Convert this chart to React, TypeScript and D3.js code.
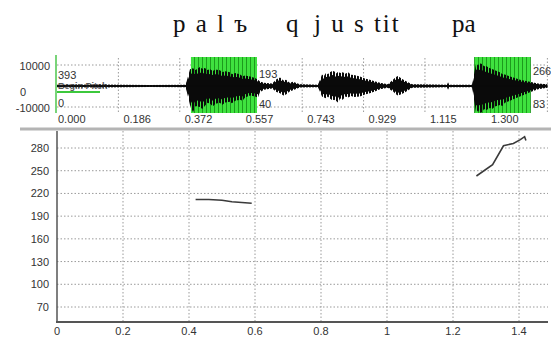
import * as d3 from 'd3';

// ---- data ----
const titleParts = ['p a l ъ', 'q', 'j u s tit', 'pa'];

// top panel (waveform) time labels
const waveTicks = [0.0, 0.186, 0.372, 0.557, 0.743, 0.929, 1.115, 1.3];
const waveTickLabels = ['0.000', '0.186', '0.372', '0.557', '0.743', '0.929', '1.115', '1.300'];
const ampTickLabels = ['10000', '0', '-10000'];

// waveform envelope: time (s), upper and lower amplitude
const envTime = [0, 0.13, 0.28, 0.39, 0.403, 0.412, 0.42, 0.433, 0.44, 0.448, 0.456, 0.464, 0.472, 0.48, 0.494, 0.5, 0.51, 0.524, 0.53, 0.54, 0.555, 0.562, 0.57, 0.585, 0.6, 0.609, 0.615, 0.627, 0.652, 0.665, 0.676, 0.686, 0.694, 0.705, 0.715, 0.736, 0.791, 0.803, 0.809, 0.815, 0.821, 0.827, 0.834, 0.84, 0.846, 0.852, 0.858, 0.866, 0.874, 0.882, 0.891, 0.9, 0.918, 0.933, 0.948, 0.965, 0.979, 1.003, 1.012, 1.018, 1.026, 1.033, 1.045, 1.055, 1.076, 1.182, 1.185, 1.188, 1.258, 1.27, 1.276, 1.28, 1.288, 1.294, 1.3, 1.312, 1.32, 1.327, 1.342, 1.35, 1.357, 1.373, 1.388, 1.403, 1.418, 1.433, 1.458, 1.486];
const envUpper = [600, 700, 500, 600, 8000, 8500, 7600, 9000, 8200, 8600, 7600, 8000, 7200, 7800, 7500, 6600, 7000, 6500, 5600, 6200, 5500, 4600, 5000, 4500, 3800, 3000, 2200, 1500, 1200, 3200, 4000, 2600, 3000, 1600, 2000, 800, 600, 5500, 4800, 6200, 5600, 6500, 7200, 7000, 6000, 6800, 6200, 6600, 5800, 6500, 5400, 5200, 4500, 3600, 3000, 2200, 1500, 800, 2200, 3000, 4200, 4800, 3500, 2500, 800, 600, 1800, 600, 600, 11000, 9800, 10800, 10500, 9400, 9500, 8500, 8000, 7500, 6500, 5600, 5500, 4500, 3800, 3000, 2500, 2000, 1200, 800];
const envLower = [-600, -700, -500, -600, -9000, -12500, -9500, -10000, -11000, -9500, -8000, -8500, -9800, -8500, -8000, -9000, -7800, -7500, -8200, -7000, -6500, -7000, -5500, -4500, -5000, -5500, -3000, -1800, -1200, -2800, -3500, -4500, -4000, -2600, -2000, -700, -600, -5000, -5500, -5800, -5000, -6000, -6800, -6500, -7200, -8000, -6000, -6500, -5000, -5500, -4800, -5200, -5000, -4000, -3500, -2500, -1500, -800, -2000, -2500, -3800, -4500, -3800, -3000, -800, -600, -1800, -600, -600, -13000, -11500, -12800, -12500, -11000, -11500, -10500, -10800, -9800, -9000, -9500, -8000, -7000, -6000, -5000, -4000, -3000, -1500, -800];

// selected (green) regions and their pitch range labels
const selStart = [0.412, 1.27];
const selEnd = [0.606, 1.436];
const selHigh = ['193', '266'];
const selLow = ['40', '83'];

// pitch track (bottom panel)
const pitchTicksX = [0, 0.2, 0.4, 0.6, 0.8, 1, 1.2, 1.4];
const pitchTicksY = [70, 100, 130, 160, 190, 220, 250, 280];
const seg1Time = [0.42, 0.46, 0.5, 0.53, 0.56, 0.59];
const seg1Hz = [212, 212, 211, 209, 208, 207];
const seg2Time = [1.271, 1.32, 1.353, 1.383, 1.404, 1.417, 1.421];
const seg2Hz = [243, 258, 283, 286, 291, 295, 290];

const W = 551;
const H = 338;
const sans = 'Arial, "Liberation Sans", sans-serif';

type Env = { t: number; hi: number; lo: number };

export default function App() {
  const x = d3.scaleLinear().domain([0, 1.4]).range([57, 519]);
  const amp = d3.scaleLinear().domain([-10000, 10000]).range([107, 65]);
  const hz = d3.scaleLinear().domain([70, 280]).range([307, 148]);

  const env: Env[] = envTime.map((t, i) => ({ t, hi: envUpper[i], lo: envLower[i] }));
  const area = (k: number) => d3.area<Env>()
    .x((d) => x(d.t))
    .y0((d) => amp(Math.max(d.lo * k, -14000)))
    .y1((d) => amp(Math.min(d.hi * k, 12500)));

  const line = d3.line<[number, number]>().x((d) => x(d[0])).y((d) => hz(d[1]));
  const seg1 = seg1Time.map((t, i) => [t, seg1Hz[i]] as [number, number]);
  const seg2 = seg2Time.map((t, i) => [t, seg2Hz[i]] as [number, number]);

  const titleX = [173, 286, 314, 452];
  const dotted = { stroke: '#9a9a9a', strokeWidth: 1, strokeDasharray: '1.5,2' };
  const plotRight = 548;
  const plotTop = 131;
  const plotBottom = 322;

  return (
    <svg width={W} height={H} style={{ position: 'absolute', left: 0, top: 0, background: '#fff' }}>
      <defs>
        <pattern id="stripes" width="4" height="10" patternUnits="userSpaceOnUse">
          <rect width="4" height="10" fill="#3fe23f" />
          <rect x="2" width="1" height="10" fill="#1d9b1d" />
        </pattern>
        <pattern id="wave" width="3" height="10" patternUnits="userSpaceOnUse">
          <rect width="2" height="10" fill="#0a0a0a" />
        </pattern>
      </defs>
      <rect width={W} height={H} fill="#fff" />

      {/* transcription above */}
      {titleParts.map((s, i) => (
        <text key={s} x={titleX[i]} y={32} fontFamily='"Liberation Serif", "Times New Roman", serif'
          fontSize={25} fill="#111" style={{ whiteSpace: 'pre' }} letterSpacing={i === 0 || i === 2 ? 2 : 0}>
          {s}
        </text>
      ))}

      {/* ---- waveform panel ---- */}
      {[10000, -10000].map((v) => (
        <line key={v} x1={57} x2={547} y1={amp(v)} y2={amp(v)} {...dotted} />
      ))}
      {waveTicks.slice(1).concat([1.486]).map((t) => (
        <line key={t} x1={x(t)} x2={x(t)} y1={58} y2={113} {...dotted} />
      ))}
      {selStart.map((s, i) => (
        <rect key={s} x={x(s) - 2} y={57} width={x(selEnd[i]) - x(s) + 2} height={56} fill="url(#stripes)" />
      ))}
      <path d={area(1)(env) ?? ''} fill="url(#wave)" />
      <path d={area(0.72)(env) ?? ''} fill="#0a0a0a" />
      <line x1={57} x2={547} y1={amp(0)} y2={amp(0)} stroke="#0a0a0a" strokeWidth={1.5} />
      <line x1={56} x2={56} y1={55} y2={113} stroke="#4cc64c" strokeWidth={1.5} />
      <line x1={57} x2={100} y1={92} y2={92} stroke="#3cc83c" strokeWidth={2} />
      <text x={58} y={89} fontFamily={sans} fontSize={9} fontWeight="bold" fill="#222" opacity={0.75}>Begin Pitch</text>

      {ampTickLabels.map((s, i) => (
        <text key={s} x={i === 1 ? 20 : 50} y={[70, 96, 112][i]} textAnchor={i === 1 ? 'start' : 'end'}
          fontFamily={sans} fontSize={11} fill="#333">{s}</text>
      ))}
      <text x={58} y={79} fontFamily={sans} fontSize={11} fill="#333">393</text>
      <text x={58} y={107} fontFamily={sans} fontSize={11} fill="#333">0</text>
      {selEnd.map((e, i) => (
        <g key={e} fontFamily={sans} fontSize={11} fill="#333">
          <text x={x(e) + 2} y={[78, 75][i]}>{selHigh[i]}</text>
          <text x={x(e) + 2} y={108}>{selLow[i]}</text>
        </g>
      ))}
      {waveTicks.map((t, i) => (
        <text key={t} x={x(t) + (i === 0 ? 1 : 5)} y={123} fontFamily={sans} fontSize={11} fill="#333">
          {waveTickLabels[i]}
        </text>
      ))}

      {/* separator */}
      <line x1={20} x2={W} y1={129} y2={129} stroke="#b4b4b4" strokeWidth={3} />

      {/* ---- pitch panel ---- */}
      {pitchTicksY.map((v) => (
        <line key={v} x1={57} x2={plotRight} y1={hz(v)} y2={hz(v)} {...dotted} />
      ))}
      {pitchTicksX.slice(1).map((t) => (
        <line key={t} x1={x(t)} x2={x(t)} y1={plotTop} y2={plotBottom} {...dotted} />
      ))}
      <line x1={57} x2={57} y1={plotTop} y2={plotBottom} stroke="#555" strokeWidth={1.5} />
      <line x1={56} x2={plotRight} y1={plotBottom} y2={plotBottom} stroke="#555" strokeWidth={2} />

      {pitchTicksY.map((v) => (
        <text key={v} x={49} y={hz(v) + 4} textAnchor="end" fontFamily={sans} fontSize={11} fill="#333">{v}</text>
      ))}
      {pitchTicksX.map((t) => (
        <text key={t} x={x(t)} y={335} textAnchor="middle" fontFamily={sans} fontSize={11} fill="#333">{String(t)}</text>
      ))}

      <path d={line(seg1) ?? ''} fill="none" stroke="#3a3a3a" strokeWidth={1.6} />
      <path d={line(seg2) ?? ''} fill="none" stroke="#3a3a3a" strokeWidth={1.6} />
    </svg>
  );
}
